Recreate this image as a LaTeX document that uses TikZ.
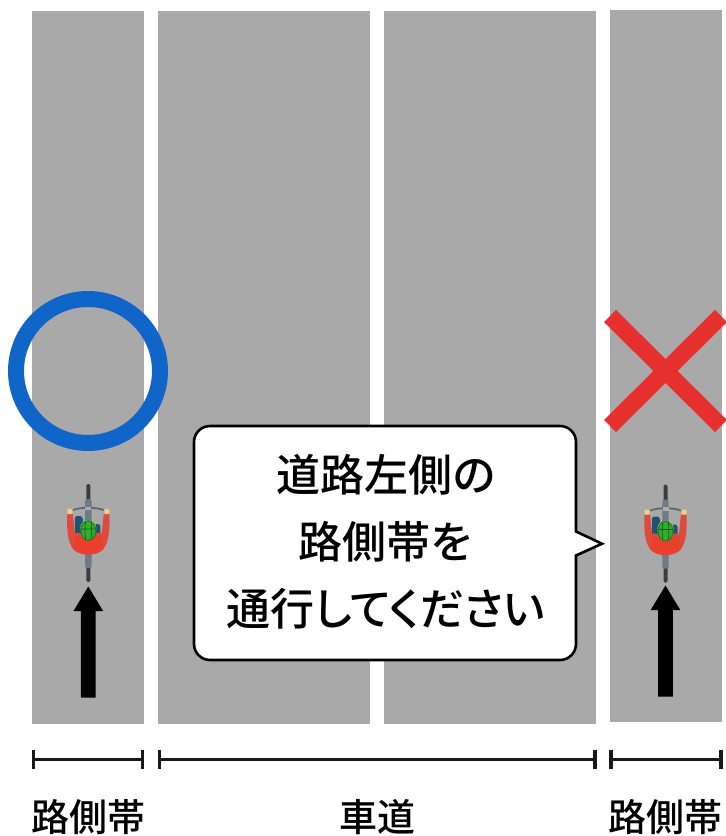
\documentclass[tikz,border=0pt]{standalone}
\usepackage{fontspec}
\setmainfont{Noto Sans CJK JP Medium}
\definecolor{road}{HTML}{A9A9A9}
\definecolor{okblue}{HTML}{0F66C8}
\definecolor{ngred}{HTML}{E5302E}
\definecolor{jacket}{HTML}{EA3F2B}
\definecolor{sleeve}{HTML}{DE4A3C}
\definecolor{bag}{HTML}{1F5273}
\definecolor{helmet}{HTML}{2FAE2F}
\definecolor{skin}{HTML}{F2CE8A}
\definecolor{framec}{HTML}{6E7A85}
\definecolor{tyre}{HTML}{3C3C3C}
\tikzset{
  lane/.style={fill=road,draw=none},
  dimline/.style={line width=3pt,draw=black!90},
  dimtick/.style={line width=3.2pt,draw=black!90},
  lbl/.style={font=\fontsize{38}{38}\selectfont,inner sep=0pt},
  calltext/.style={font=\fontsize{44}{67}\selectfont,align=center,inner sep=0pt},
  bike/.pic={
    \fill[tyre,rounded corners=1.5pt] (-2,-49) rectangle (2,49);
    \fill[framec,rounded corners=1.5pt] (-3.2,-34) rectangle (3.2,35);
    \draw[framec!85!black,line width=1.8pt,line cap=round] (-15,-23) .. controls (-8,-26) and (8,-26) .. (15,-23);
    \fill[framec!60!white] (-3,-26.5) rectangle (3,-23);
    % bag, under the rider
    \fill[bag,rounded corners=2.5pt] (-13.5,-17) -- (-6,-17) -- (-3,4) -- (-13.5,4) -- cycle;
    \fill[bag,rounded corners=2.5pt] (5,-9) -- (12,-9) -- (12,4) -- (3,4) -- cycle;
    % arms and body
    \fill[sleeve] (-21,-19) -- (-15.5,-19) -- (-13.5,0) -- (13.5,0) -- (15.5,-19) -- (21,-19)
       .. controls (22,-2) and (20,13) .. (13,18) .. controls (6,23) and (-6,23) .. (-13,18) .. controls (-20,13) and (-22,-2) .. (-21,-19) -- cycle;
    \fill[jacket] (-13,3) -- (13,3) -- (15.5,15.5) .. controls (7,23) and (-7,23) .. (-15.5,15.5) -- cycle;
    \fill[skin,rounded corners=1pt] (-21,-24) rectangle (-16,-19);
    \fill[skin,rounded corners=1pt] (16,-24) rectangle (21,-19);
    \fill[skin] (0,-5) circle (8);
    \fill[helmet!75!black] (0,-2.5) ellipse (8.2 and 10.4);
    \fill[helmet] (0,-2.5) ellipse (6.8 and 9);
    \draw[helmet!55!black,line width=.7pt] (-2.6,-11.5) .. controls (-3.6,-6) and (-3.6,1) .. (-2.6,6.5)
      (2.6,-11.5) .. controls (3.6,-6) and (3.6,1) .. (2.6,6.5) (-7,-4) -- (7,-4);
  },
  uparrow/.pic={
    \fill[black] (0,0) -- (14.8,24.5) -- (7.4,24.5) -- (7.4,111) -- (-7.4,111) -- (-7.4,24.5) -- (-14.8,24.5) -- cycle;
  }
}
\begin{document}
\begin{tikzpicture}[x=1pt,y=-1pt]
\useasboundingbox (0,0) rectangle (726,836);
\fill[lane] (32,11) rectangle (144,724);
\fill[lane] (158,11) rectangle (370,724);
\fill[lane] (384,11) rectangle (596,724);
\fill[lane] (610,10) rectangle (722,722);
% marks
\draw[okblue,line width=16pt] (88,371) circle (72);
\draw[ngred,line width=17pt] (610,316) -- (721,426);
\draw[ngred,line width=17pt] (721,316) -- (610,426);
% cyclists
\pic at (88.3,533) {bike};
\pic at (665.5,533.5) {bike};
\pic at (88.3,586.5) {uparrow};
\pic at (665.5,585.5) {uparrow};
% callout
\draw[fill=white,draw=black,line width=2.6pt,line join=miter]
  (210,426) -- (560,426) arc[start angle=-90,end angle=0,radius=16] -- (576,531.5) -- (602,543.7) -- (576,555.5) -- (576,644)
  arc[start angle=0,end angle=90,radius=16] -- (210,660) arc[start angle=90,end angle=180,radius=16] -- (194,442) arc[start angle=180,end angle=270,radius=16] -- cycle;
\node[calltext] (msg) at (386,542) {道路左側の\\路側帯を\\{\addfontfeature{RawFeature=+palt}通行してください}};
% dimension lines
\coordinate (d1a) at (33.5,759); \coordinate (d1b) at (142.5,759);
\coordinate (d2a) at (159.5,759); \coordinate (d2b) at (595,759);
\coordinate (d3a) at (611,759); \coordinate (d3b) at (721,759);
\draw[dimline] (d1a) -- (d1b);
\draw[dimline] (d2a) -- (d2b);
\draw[dimline] (d3a) -- (d3b);
\foreach \c in {d1a,d1b,d2a,d2b,d3a,d3b}{
  \draw[dimtick] ([yshift=9.5pt]\c) -- ([yshift=-9.5pt]\c);
}
% labels
\node[lbl] (l1) at (88.5,817) {路側帯};
\node[lbl] (l2) at (377,817) {車道};
\node[lbl] (l3) at (665.5,817) {路側帯};
\end{tikzpicture}
\end{document}
